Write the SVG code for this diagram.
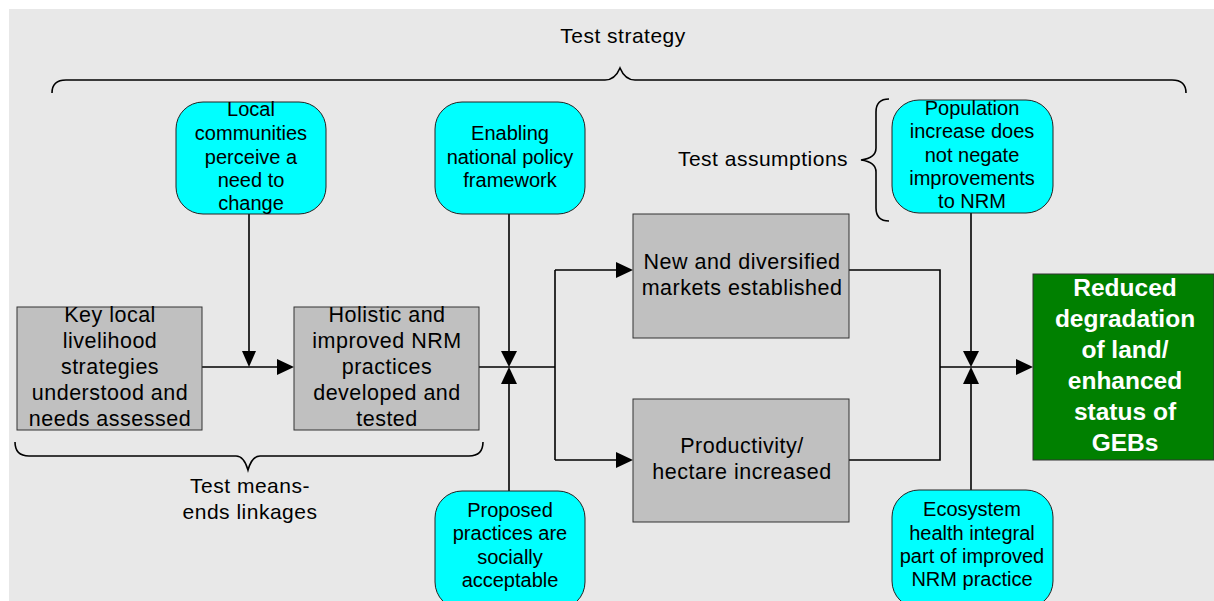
<svg xmlns="http://www.w3.org/2000/svg" width="1214" height="601" viewBox="0 0 1214 601">
  <defs>
    <style>
      text { font-family: "Liberation Sans", Arial, sans-serif; fill: #000; text-anchor: middle; }
      .cyan { fill: #00ffff; stroke: #222; stroke-width: 1; }
      .grey { fill: #c0c0c0; stroke: #333; stroke-width: 1; }
      .goal { fill: #008000; stroke: #333; stroke-width: 1; }
      .t20 { font-size: 20px; }
      .t22 { font-size: 21.5px; letter-spacing: 0.5px; }
      .lbl { font-size: 21px; letter-spacing: 0.5px; }
      .goal-text { font-size: 24.5px; font-weight: bold; fill: #fff; }
      .wire { fill: none; stroke: #000; stroke-width: 1.6; }
      .brace { fill: none; stroke: #000; stroke-width: 1.6; }
      .head { fill: #000; }
    </style>
  </defs>

  <!-- canvas -->
  <rect x="9" y="9" width="1205" height="592" fill="#e8e8e8"/>

  <!-- braces and their captions -->
  <g id="test-strategy">
    <path class="brace" d="M52,93 Q52,80 66,80 L605,80 Q615,80 620,68 Q625,80 635,80 L1172,80 Q1186,80 1186,93"/>
    <text class="lbl" x="623" y="43">Test strategy</text>
  </g>
  <g id="test-assumptions">
    <path class="brace" d="M889,99 Q876,99 876,112 L876,148 Q876,158 861,160 Q876,162 876,172 L876,208 Q876,221 889,221"/>
    <text class="lbl" x="763" y="166">Test assumptions</text>
  </g>
  <g id="test-means-ends">
    <path class="brace" d="M15,442 Q15,456 29,456 L236,456 Q244,456 248,470 Q252,456 260,456 L469,456 Q483,456 483,442"/>
    <text class="lbl" x="250" y="493">Test means-</text>
    <text class="lbl" x="250" y="519">ends linkages</text>
  </g>

  <!-- connectors -->
  <g id="connectors">
    <path class="wire" d="M202,367 H280"/>
    <path class="wire" d="M249,214 V352"/>
    <path class="wire" d="M479,367 H555"/>
    <path class="wire" d="M509,214 V352"/>
    <path class="wire" d="M509,491 V382"/>
    <path class="wire" d="M555,270 V460"/>
    <path class="wire" d="M555,270 H618"/>
    <path class="wire" d="M555,460 H618"/>
    <path class="wire" d="M849,270 H940 V460 H849"/>
    <path class="wire" d="M940,367 H1018"/>
    <path class="wire" d="M971,213 V352"/>
    <path class="wire" d="M971,490 V382"/>
    <polygon class="head" points="294,367 277,359 277,375"/>
    <polygon class="head" points="249,367 242,351 256,351"/>
    <polygon class="head" points="509,367 501,351 517,351"/>
    <polygon class="head" points="509,367 501,384 517,384"/>
    <polygon class="head" points="633,270 616,262 616,278"/>
    <polygon class="head" points="633,460 616,452 616,468"/>
    <polygon class="head" points="971,367 963,351 979,351"/>
    <polygon class="head" points="971,367 963,384 979,384"/>
    <polygon class="head" points="1033,367 1016,359 1016,375"/>
  </g>

  <!-- assumption boxes -->
  <g id="local-communities">
    <rect class="cyan" x="176" y="102" width="150" height="112" rx="27"/>
    <text class="t20" x="251" y="116">Local</text>
    <text class="t20" x="251" y="140">communities</text>
    <text class="t20" x="251" y="164">perceive a</text>
    <text class="t20" x="251" y="187">need to</text>
    <text class="t20" x="251" y="210">change</text>
  </g>
  <g id="enabling-policy">
    <rect class="cyan" x="435" y="102" width="150" height="112" rx="27"/>
    <text class="t20" x="510" y="140">Enabling</text>
    <text class="t20" x="510" y="164">national policy</text>
    <text class="t20" x="510" y="187">framework</text>
  </g>
  <g id="population">
    <rect class="cyan" x="892" y="100" width="161" height="113" rx="27"/>
    <text class="t20" x="972" y="115">Population</text>
    <text class="t20" x="972" y="138">increase does</text>
    <text class="t20" x="972" y="162">not negate</text>
    <text class="t20" x="972" y="185">improvements</text>
    <text class="t20" x="972" y="208">to NRM</text>
  </g>
  <g id="proposed-practices">
    <rect class="cyan" x="435" y="491" width="150" height="118" rx="27"/>
    <text class="t20" x="510" y="517">Proposed</text>
    <text class="t20" x="510" y="540">practices are</text>
    <text class="t20" x="510" y="564">socially</text>
    <text class="t20" x="510" y="587">acceptable</text>
  </g>
  <g id="ecosystem-health">
    <rect class="cyan" x="892" y="490" width="161" height="118" rx="27"/>
    <text class="t20" x="972" y="516">Ecosystem</text>
    <text class="t20" x="972" y="540">health integral</text>
    <text class="t20" x="972" y="563">part of improved</text>
    <text class="t20" x="972" y="586">NRM practice</text>
  </g>

  <!-- output boxes -->
  <g id="livelihood-strategies">
    <rect class="grey" x="17" y="307" width="185" height="123"/>
    <text class="t22" x="110" y="322">Key local</text>
    <text class="t22" x="110" y="348">livelihood</text>
    <text class="t22" x="110" y="374">strategies</text>
    <text class="t22" x="110" y="400">understood and</text>
    <text class="t22" x="110" y="426">needs assessed</text>
  </g>
  <g id="nrm-practices">
    <rect class="grey" x="294" y="307" width="185" height="123"/>
    <text class="t22" x="387" y="322">Holistic and</text>
    <text class="t22" x="387" y="348">improved NRM</text>
    <text class="t22" x="387" y="374">practices</text>
    <text class="t22" x="387" y="400">developed and</text>
    <text class="t22" x="387" y="426">tested</text>
  </g>
  <g id="new-markets">
    <rect class="grey" x="633" y="214" width="216" height="124"/>
    <text class="t22" x="742" y="269">New and diversified</text>
    <text class="t22" x="742" y="295">markets established</text>
  </g>
  <g id="productivity">
    <rect class="grey" x="633" y="399" width="216" height="123"/>
    <text class="t22" x="742" y="453">Productivity/</text>
    <text class="t22" x="742" y="479">hectare increased</text>
  </g>

  <!-- goal -->
  <g id="reduced-degradation">
    <rect class="goal" x="1033" y="274" width="181" height="186"/>
    <text class="goal-text" x="1125" y="296">Reduced</text>
    <text class="goal-text" x="1125" y="327">degradation</text>
    <text class="goal-text" x="1125" y="358">of land/</text>
    <text class="goal-text" x="1125" y="389">enhanced</text>
    <text class="goal-text" x="1125" y="420">status of</text>
    <text class="goal-text" x="1125" y="451">GEBs</text>
  </g>
</svg>
